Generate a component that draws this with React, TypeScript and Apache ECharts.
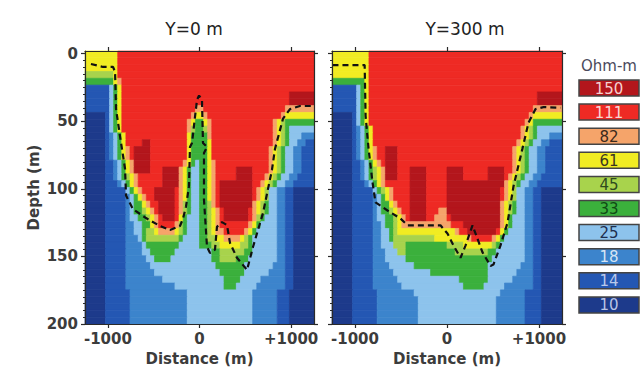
import React, { useEffect, useRef } from 'react';
import * as echarts from 'echarts';

// ---------- data ----------
const PANEL_TITLES = ['Y=0 m', 'Y=300 m'];
const X_TICKS = [-1000, 0, 1000];
const X_TICK_LABELS = ['-1000', '0', '+1000'];
const DEPTH_TICKS = [0, 50, 100, 150, 200];
const X_RANGE = [-1250, 1250];
const DEPTH_RANGE = [-2, 200];
const N_COLS = 56;

const LEGEND_TITLE = 'Ohm-m';
const LEGEND_LABELS = ['150', '111', '82', '61', '45', '33', '25', '18', '14', '10'];
const CLASS_COLORS = ['#b3161c', '#ee2a24', '#f5a46a', '#f1ec22', '#a8d34c', '#3bb03c', '#8dc3ec', '#3c84cc', '#2457b3', '#1d3a8b'];
const LEGEND_TEXT_COLORS = ['#f6cfcf', '#fbd6d3', '#3b2a1c', '#3a3620', '#2e4a1e', '#0f4a14', '#1e2f4f', '#d5e4f5', '#b9c8ea', '#b8c3e6'];

// Each row = 5 m depth slice; runs "class:count" over 56 columns (class index into LEGEND_LABELS)
const LEFT_ROWS = [
  '3:8 1:48',
  '3:8 1:48',
  '3:8 1:48',
  '4:7 3:1 1:48',
  '5:7 3:1 2:1 1:47',
  '8:6 6:1 5:1 3:1 1:47',
  '8:6 6:1 5:1 3:1 1:41 0:6',
  '8:6 6:1 5:1 3:1 1:41 0:6',
  '8:6 6:1 5:1 3:1 1:18 2:2 1:20 2:7',
  '9:5 8:1 6:1 5:1 3:1 1:17 2:1 3:2 2:1 1:18 2:1 3:7',
  '9:5 8:1 6:1 5:1 3:1 1:16 2:1 3:1 5:2 3:1 2:1 1:15 2:1 3:1 4:1 5:7',
  '9:5 8:1 6:1 5:1 3:1 1:16 2:1 4:1 5:2 4:1 2:1 1:15 2:1 3:1 4:1 5:1 6:6',
  '9:5 8:1 7:1 6:1 5:1 3:1 1:15 3:1 5:4 2:1 1:15 2:1 3:1 4:1 5:1 6:3 7:3',
  '9:5 8:1 7:1 6:1 5:1 3:1 1:4 0:2 1:9 3:1 5:4 3:1 1:15 2:1 3:1 4:1 5:1 6:2 7:2 8:2',
  '9:5 8:1 7:1 6:1 5:1 3:1 2:1 1:1 0:4 1:9 3:1 5:4 3:1 1:14 2:1 3:1 4:1 5:1 6:2 7:2 8:3',
  '9:5 8:1 7:1 6:1 5:1 3:1 2:1 1:1 0:4 1:9 3:1 5:4 3:1 1:14 2:1 3:1 4:1 5:1 6:2 7:2 8:3',
  '9:5 8:2 7:1 6:1 5:1 3:1 2:1 0:4 1:8 2:1 3:1 5:1 6:1 5:2 3:1 2:1 1:13 2:1 3:1 4:1 5:1 6:2 7:2 8:3',
  '9:5 8:2 7:1 6:1 5:1 3:1 2:1 0:4 1:3 0:4 2:1 3:1 5:1 6:2 5:2 3:1 2:1 1:5 0:4 1:4 2:1 3:1 4:1 5:1 6:2 7:2 8:3',
  '9:5 8:2 7:1 6:1 5:1 4:1 3:1 2:1 1:6 0:4 2:1 3:1 5:1 6:2 5:2 3:1 2:1 1:5 0:4 1:3 2:1 3:1 4:1 5:1 6:2 7:2 8:4',
  '9:5 8:3 7:1 6:1 5:1 3:1 2:1 1:6 0:4 2:1 3:1 5:1 6:2 5:2 3:1 2:1 1:1 0:8 1:2 2:1 3:1 4:1 5:1 6:2 7:2 8:5',
  '9:5 8:5 6:1 5:1 3:1 2:1 1:3 0:5 1:1 2:1 3:1 5:1 6:2 5:2 3:1 2:1 1:1 0:8 1:1 2:1 3:1 4:1 6:2 7:2 8:2 9:5',
  '9:5 8:5 7:1 6:1 5:1 3:1 2:1 1:2 0:5 1:1 2:1 3:1 5:1 6:2 5:2 3:1 2:1 1:1 0:8 1:1 2:1 3:1 4:1 6:2 7:2 8:2 9:5',
  '9:5 8:5 7:1 6:1 5:2 3:1 2:1 1:2 0:4 1:1 2:1 4:1 5:1 6:2 5:2 4:1 2:1 1:1 0:8 2:1 3:1 4:1 5:1 6:2 7:2 8:2 9:5',
  '9:5 8:5 7:1 6:1 5:2 4:1 3:1 2:1 1:1 0:4 1:1 2:1 4:1 5:1 6:2 5:2 4:1 3:1 2:1 1:1 0:6 1:1 2:1 3:1 4:1 5:1 6:2 7:2 8:2 9:5',
  '9:5 8:5 7:1 6:2 5:2 4:1 3:1 2:1 1:1 0:3 1:1 3:1 5:1 6:3 5:2 4:1 3:1 2:1 1:1 0:6 1:1 2:1 4:1 5:1 6:3 7:2 8:2 9:5',
  '9:5 8:5 7:2 6:2 5:2 3:1 2:1 1:4 2:1 4:1 5:1 6:3 5:2 4:1 3:1 2:1 1:7 2:1 3:1 5:1 6:4 7:2 8:2 9:5',
  '9:5 8:5 7:2 6:2 5:1 4:2 3:1 2:4 3:1 4:1 5:1 6:3 5:2 4:1 3:1 2:2 1:5 2:1 3:1 5:1 6:5 7:2 8:2 9:5',
  '9:5 8:5 7:3 6:1 5:1 4:8 5:1 6:4 5:2 4:2 3:2 2:4 3:1 4:1 5:1 6:6 7:2 8:2 9:5',
  '9:5 8:5 7:4 6:1 5:8 6:5 5:3 4:2 3:5 4:2 5:1 6:6 7:2 8:2 9:5',
  '9:5 8:5 7:4 6:2 5:6 6:9 5:2 4:6 5:2 6:6 7:2 8:2 9:5',
  '9:5 8:5 7:5 6:2 5:4 6:10 5:2 4:4 5:3 6:7 7:2 8:2 9:5',
  '9:5 8:5 7:6 6:16 5:7 6:7 7:3 8:2 9:5',
  '9:5 8:5 7:7 6:16 5:6 6:6 7:4 8:2 9:5',
  '9:5 8:5 7:9 6:15 5:4 6:5 7:6 8:2 9:5',
  '9:5 8:5 7:12 6:12 5:3 6:5 7:7 8:2 9:5',
  '9:5 8:6 7:14 6:16 7:6 8:3 9:6',
  '9:5 8:6 7:14 6:16 7:6 8:3 9:6',
  '9:5 8:6 7:14 6:16 7:6 8:3 9:6',
  '9:5 8:6 7:14 6:16 7:6 8:3 9:6',
  '9:5 8:6 7:14 6:16 7:6 8:3 9:6',
];

const RIGHT_ROWS = [
  '3:9 1:47',
  '3:9 1:47',
  '3:9 1:47',
  '3:9 1:47',
  '5:8 3:1 1:47',
  '8:6 6:1 5:1 3:1 1:47',
  '8:6 6:1 5:1 3:1 1:41 0:6',
  '8:6 6:1 5:1 3:1 1:41 0:6',
  '8:6 6:1 5:1 3:1 1:40 2:7',
  '9:5 8:1 6:1 5:1 3:1 1:39 2:1 3:7',
  '9:5 8:1 6:1 5:1 3:1 1:38 2:1 3:1 5:7',
  '9:5 8:1 7:1 6:1 5:1 3:1 1:36 2:1 3:1 4:1 5:1 6:6',
  '9:5 8:1 7:1 6:1 5:1 3:1 1:36 2:1 3:1 4:1 5:1 6:3 7:3',
  '9:5 8:1 7:1 6:1 5:1 3:1 1:35 2:1 3:1 4:1 5:1 6:2 7:2 8:3',
  '9:5 8:1 7:1 6:1 5:1 3:1 2:1 1:2 0:3 1:28 2:1 3:1 4:1 5:1 6:2 7:2 8:4',
  '9:5 8:1 7:1 6:1 5:1 3:1 2:1 1:2 0:3 1:28 2:1 3:1 4:1 5:1 6:2 7:2 8:4',
  '9:5 8:2 7:1 6:1 5:1 3:1 2:1 1:1 0:3 1:28 2:1 3:1 4:1 5:1 6:2 7:2 8:4',
  '9:5 8:2 7:1 6:1 5:1 4:1 3:1 2:1 0:3 1:3 0:4 1:5 0:4 1:6 0:4 1:2 2:1 3:1 4:1 5:1 6:2 7:2 8:4',
  '9:5 8:2 7:1 6:1 5:1 4:1 3:1 2:1 0:3 1:3 0:4 1:5 0:4 1:6 0:4 1:1 2:1 3:1 4:1 5:1 6:2 7:2 8:5',
  '9:5 8:3 7:1 6:1 5:1 3:1 2:1 1:6 0:4 1:5 0:14 2:1 3:1 4:1 5:1 6:2 7:2 8:6',
  '9:5 8:5 6:1 5:1 4:1 3:1 2:1 1:4 0:4 1:5 0:13 1:1 2:1 3:1 4:1 6:2 7:2 8:2 9:5',
  '9:5 8:5 7:1 6:1 5:1 3:1 2:1 1:4 0:4 1:5 0:13 1:1 2:1 3:1 4:1 6:2 7:2 8:2 9:5',
  '9:5 8:5 7:1 6:1 5:2 3:1 2:1 1:3 0:4 1:5 0:13 2:1 3:1 4:1 5:1 6:2 7:2 8:2 9:5',
  '9:5 8:5 7:1 6:1 5:2 4:1 3:1 2:1 1:2 0:4 1:3 2:2 0:13 2:1 3:1 4:1 5:1 6:2 7:2 8:2 9:5',
  '9:5 8:5 7:1 6:2 5:2 4:1 3:1 2:1 1:1 0:4 1:2 2:3 1:1 0:12 2:1 3:1 5:1 6:3 7:2 8:2 9:5',
  '9:5 8:5 7:2 6:1 5:2 4:1 3:1 2:12 1:3 0:9 2:1 3:1 5:1 6:3 7:2 8:2 9:5',
  '9:5 8:5 7:2 6:2 5:1 4:1 3:14 2:1 1:2 0:7 1:1 3:1 5:1 6:4 7:2 8:2 9:5',
  '9:5 8:5 7:2 6:2 5:1 4:10 3:8 2:1 1:5 2:1 3:1 5:1 6:5 7:2 8:2 9:5',
  '9:5 8:5 7:2 6:3 4:3 5:10 4:4 3:7 4:1 5:1 6:6 7:2 8:2 9:5',
  '9:5 8:5 7:3 6:3 4:2 5:12 4:8 5:2 6:7 7:2 8:2 9:5',
  '9:5 8:5 7:3 6:5 5:21 6:8 7:2 8:2 9:5',
  '9:5 8:5 7:4 6:6 5:18 6:8 7:3 8:2 9:5',
  '9:5 8:5 7:5 6:9 5:14 6:7 7:4 8:2 9:5',
  '9:5 8:5 7:6 6:15 5:7 6:6 7:5 8:2 9:5',
  '9:5 8:5 7:7 6:15 5:5 6:5 7:7 8:2 9:5',
  '9:5 8:6 7:9 6:21 7:6 8:4 9:5',
  '9:5 8:6 7:10 6:19 7:7 8:4 9:5',
  '9:5 8:6 7:10 6:19 7:7 8:4 9:5',
  '9:5 8:6 7:10 6:19 7:7 8:4 9:5',
  '9:5 8:6 7:10 6:19 7:7 8:4 9:5',
];

// dashed boundary lines: [distance (m), depth (m)]
const LEFT_DASHED = [
  [-1185, 7.6], [-1053, 9.8], [-944, 9.8], [-922, 13.5], [-911, 41], [-868, 61], [-813, 85],
  [-802, 105], [-726, 115], [-584, 121.6], [-431, 127.5], [-322, 130.5], [-213, 127.5], [-180, 122],
  [-147, 113], [-115, 98], [-104, 69], [-82, 66], [-27, 34], [-5, 31], [27, 34], [38, 66], [82, 69],
  [49, 73.5], [49, 108], [82, 143], [115, 147.5], [169, 145], [191, 128], [246, 124.6], [300, 126.8],
  [333, 140], [409, 151], [519, 160], [584, 143], [693, 118], [748, 100], [791, 86], [824, 70.5],
  [912, 48], [988, 41], [1097, 38.7], [1239, 38.7],
];
const RIGHT_DASHED = [
  [-1245, 8.4], [-895, 8.4], [-885, 46], [-853, 70], [-810, 95], [-777, 110], [-647, 116],
  [-505, 122], [-429, 127], [-71, 127], [5, 133], [71, 142], [147, 151], [201, 142], [277, 127],
  [332, 137], [386, 147], [473, 157], [505, 156], [581, 142], [658, 125], [723, 98], [821, 70],
  [886, 51], [962, 41], [1049, 39.5], [1234, 40],
];

// ---------- layout / style ----------
const FONT = '"DejaVu Sans", "Liberation Sans", sans-serif';
const GRIDS = [
  { left: 85, top: 51, width: 229, height: 273 },
  { left: 332, top: 51, width: 230, height: 273 },
];
const TITLE_POS = [[194, 29], [465, 29]];

function rowsToCells(rows: string[]) {
  const dx = (X_RANGE[1] - X_RANGE[0]) / N_COLS;
  const dy = (DEPTH_RANGE[1] - DEPTH_RANGE[0]) / rows.length;
  const out: number[][] = [];
  rows.forEach((row, r) => {
    let col = 0;
    let last = 0;
    row.trim().split(/\s+/).forEach((tok) => {
      const [c, n] = tok.split(':').map(Number);
      const end = Math.min(N_COLS, col + n);
      if (end > col) out.push([X_RANGE[0] + col * dx, X_RANGE[0] + end * dx, DEPTH_RANGE[0] + r * dy, DEPTH_RANGE[0] + (r + 1) * dy, c]);
      col = end;
      last = c;
    });
    if (col < N_COLS) out.push([X_RANGE[0] + col * dx, X_RANGE[1], DEPTH_RANGE[0] + r * dy, DEPTH_RANGE[0] + (r + 1) * dy, last]);
  });
  return out;
}

function buildOption() {
  const line = { color: '#2a2a2a', width: 1.2 };
  const tickLabel = { fontFamily: FONT, fontSize: 15, fontWeight: 'bold' as const, color: '#3c3c3c' };
  const nameStyle = { fontFamily: FONT, fontSize: 15, fontWeight: 'bold' as const, color: '#3c3c3c' };
  const minorTicks: number[] = [];
  for (let d = 0; d <= DEPTH_RANGE[1]; d += 5) minorTicks.push(d);

  const xAxis: any[] = [];
  const yAxis: any[] = [];
  GRIDS.forEach((_, gi) => {
    xAxis.push({
      gridIndex: gi, type: 'value', min: X_RANGE[0], max: X_RANGE[1], position: 'bottom', z: 10,
      axisLine: { show: true, onZero: false, lineStyle: line },
      axisTick: { show: true, length: 4, customValues: X_TICKS, lineStyle: line },
      axisLabel: {
        show: true, customValues: X_TICKS, margin: 7, ...tickLabel,
        formatter: (v: number) => { const i = X_TICKS.indexOf(v); return i >= 0 ? X_TICK_LABELS[i] : ''; },
      },
      splitLine: { show: false },
      name: 'Distance (m)', nameLocation: 'middle', nameGap: 27, nameTextStyle: nameStyle,
    });
    xAxis.push({
      gridIndex: gi, type: 'value', min: X_RANGE[0], max: X_RANGE[1], position: 'top', z: 10,
      axisLine: { show: true, onZero: false, lineStyle: line },
      axisTick: { show: true, length: 4, customValues: X_TICKS, lineStyle: line },
      axisLabel: { show: false }, splitLine: { show: false },
    });
    yAxis.push({
      gridIndex: gi, type: 'value', min: DEPTH_RANGE[0], max: DEPTH_RANGE[1], inverse: true, position: 'left', z: 10,
      axisLine: { show: true, onZero: false, lineStyle: line },
      axisTick: { show: true, length: 4, customValues: DEPTH_TICKS, lineStyle: line },
      axisLabel: { show: gi === 0, customValues: DEPTH_TICKS, margin: 7, ...tickLabel },
      splitLine: { show: false },
      name: gi === 0 ? 'Depth (m)' : '', nameLocation: 'middle', nameGap: 44, nameTextStyle: nameStyle,
    });
    yAxis.push({
      gridIndex: gi, type: 'value', min: DEPTH_RANGE[0], max: DEPTH_RANGE[1], inverse: true, position: 'left', z: 10,
      axisLine: { show: false, onZero: false },
      axisTick: { show: true, length: 2, customValues: minorTicks, lineStyle: { color: '#2a2a2a', width: 1 } },
      axisLabel: { show: false }, splitLine: { show: false },
    });
    yAxis.push({
      gridIndex: gi, type: 'value', min: DEPTH_RANGE[0], max: DEPTH_RANGE[1], inverse: true, position: 'right', z: 10,
      axisLine: { show: true, onZero: false, lineStyle: line },
      axisTick: { show: true, length: 4, customValues: DEPTH_TICKS, lineStyle: line },
      axisLabel: { show: false }, splitLine: { show: false },
    });
  });

  const renderCell = (params: any, api: any) => {
    const a = api.coord([api.value(0), api.value(2)]);
    const b = api.coord([api.value(1), api.value(3)]);
    const color = CLASS_COLORS[api.value(4)];
    return {
      type: 'rect',
      shape: { x: Math.min(a[0], b[0]), y: Math.min(a[1], b[1]), width: Math.abs(b[0] - a[0]), height: Math.abs(b[1] - a[1]) },
      style: { fill: color, stroke: color, lineWidth: 0.7 },
    };
  };

  const panels = [
    { rows: LEFT_ROWS, dashed: LEFT_DASHED, xi: 0, yi: 0 },
    { rows: RIGHT_ROWS, dashed: RIGHT_DASHED, xi: 2, yi: 3 },
  ];
  const series: any[] = [];
  panels.forEach((p) => {
    series.push({
      type: 'custom', xAxisIndex: p.xi, yAxisIndex: p.yi, silent: true, z: 1,
      encode: { x: [0, 1], y: [2, 3] },
      renderItem: renderCell,
      data: rowsToCells(p.rows),
    });
    series.push({
      type: 'line', xAxisIndex: p.xi, yAxisIndex: p.yi, silent: true, z: 5,
      symbol: 'none', data: p.dashed,
      lineStyle: { color: '#111', width: 2.2, type: [6, 4] },
    });
  });

  const graphic: any[] = [];
  PANEL_TITLES.forEach((t, i) => {
    graphic.push({
      type: 'text', x: TITLE_POS[i][0], y: TITLE_POS[i][1],
      style: { text: t, fontFamily: FONT, fontSize: 17, fill: '#222', align: 'center', verticalAlign: 'middle', textAlign: 'center', textVerticalAlign: 'middle' },
    });
  });
  graphic.push({
    type: 'text', x: 581, y: 66,
    style: { text: LEGEND_TITLE, fontFamily: FONT, fontSize: 15, fill: '#4a4a5c', align: 'left', verticalAlign: 'middle', textAlign: 'left', textVerticalAlign: 'middle' },
  });
  LEGEND_LABELS.forEach((lab, i) => {
    graphic.push({
      type: 'group', x: 579, y: 80 + 24.1 * i,
      children: [
        { type: 'rect', shape: { x: 0, y: 0, width: 60, height: 16 }, style: { fill: CLASS_COLORS[i], stroke: '#444', lineWidth: 1.5 } },
        {
          type: 'text', x: 30, y: 8.5,
          style: { text: lab, fontFamily: FONT, fontSize: 15, fill: LEGEND_TEXT_COLORS[i], align: 'center', verticalAlign: 'middle', textAlign: 'center', textVerticalAlign: 'middle' },
        },
      ],
    });
  });

  return {
    animation: false,
    backgroundColor: '#ffffff',
    grid: GRIDS.map((g) => ({ ...g, containLabel: false })),
    xAxis, yAxis, series, graphic,
  };
}

export default function App() {
  const ref = useRef<HTMLDivElement>(null);
  useEffect(() => {
    const chart = echarts.init(ref.current as HTMLDivElement, null, { renderer: 'svg' });
    chart.setOption(buildOption() as any);
    return () => chart.dispose();
  }, []);
  return <div ref={ref} style={{ position: 'fixed', left: 0, top: 0, width: 640, height: 376, background: '#fff' }} />;
}
